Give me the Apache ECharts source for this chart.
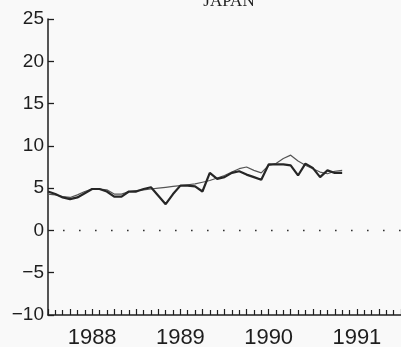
<!DOCTYPE html>
<html><head><meta charset="utf-8">
<script src="https://cdn.jsdelivr.net/npm/echarts@6/dist/echarts.min.js"></script>
<style>html,body{margin:0;padding:0;background:#f9f9f9;}#c{width:401px;height:347px;}</style>
</head><body><div id="c"></div>
<script>
// Monthly, starting January 1988
const startYear = 1988;
const yearLabels = ['1988', '1989', '1990', '1991'];
const seriesThick = [4.6,4.3,3.9,3.7,3.9,4.4,4.9,4.9,4.6,4.0,4.0,4.6,4.6,4.9,5.1,4.1,3.1,4.3,5.3,5.3,5.2,4.6,6.8,6.1,6.3,6.8,7.0,6.6,6.3,6.0,7.8,7.8,7.8,7.7,6.5,7.9,7.4,6.3,7.1,6.8,6.8];
const seriesThin  = [4.3,4.2,4.0,3.9,4.2,4.6,4.9,4.9,4.8,4.3,4.3,4.6,4.7,4.8,4.9,5.0,5.1,5.2,5.3,5.4,5.5,5.7,5.9,6.2,6.5,6.9,7.3,7.5,7.1,6.8,7.7,7.9,8.5,8.9,8.2,7.7,7.3,6.9,6.7,7.0,7.1];
const zeroLine = [0, 0];
const yTicks = [-10, -5, 0, 5, 10, 15, 20, 25];

const toPts = arr => arr.map((v, i) => [startYear + i / 12, v]);
const fontSans = 'Liberation Sans';
const ink = '#1e1e1e';

const chart = echarts.init(document.getElementById('c'), null, {renderer: 'canvas'});
chart.setOption({
  backgroundColor: '#f9f9f9',
  animation: false,
  title: {
    text: 'JAPAN', left: 224, top: -12, textAlign: 'center',
    textStyle: {fontFamily: 'Liberation Serif', fontSize: 17, fontWeight: 'normal', color: ink}
  },
  grid: {left: 48, right: 0, top: 19, bottom: 32, containLabel: false, outerBoundsMode: 'none'},
  xAxis: [
    {
      type: 'category', data: yearLabels, boundaryGap: true, position: 'bottom',
      axisLine: {onZero: false, lineStyle: {color: ink, width: 1.5}},
      axisTick: {inside: true, length: 9, interval: 0, lineStyle: {color: ink, width: 1.3}},
      axisLabel: {fontFamily: fontSans, fontSize: 22, color: ink, margin: 12},
      splitLine: {show: false}
    },
    {
      type: 'value', min: startYear, max: startYear + yearLabels.length, interval: 0.25, position: 'bottom',
      axisLine: {show: false, onZero: false},
      axisTick: {show: true, inside: true, length: 6, lineStyle: {color: ink, width: 1.2}},
      minorTick: {show: true, splitNumber: 3, length: 5, lineStyle: {color: ink, width: 1.2}},
      axisLabel: {show: false},
      splitLine: {show: false}
    }
  ],
  yAxis: {
    type: 'value', min: yTicks[0], max: yTicks[yTicks.length - 1], interval: 5,
    axisLine: {show: true, onZero: false, lineStyle: {color: ink, width: 1.5}},
    axisTick: {show: true, inside: true, length: 6, lineStyle: {color: ink, width: 1.3}},
    axisLabel: {fontFamily: fontSans, fontSize: 19, color: ink, margin: 4,
      formatter: v => (v < 0 ? '\u2212' + Math.abs(v) : String(v))},
    splitLine: {show: false}
  },
  series: [
    {
      type: 'line', xAxisIndex: 1, data: zeroLine.map((v, i) => [startYear + i * yearLabels.length, v]),
      symbol: 'none', silent: true,
      lineStyle: {color: '#333', width: 1.6, type: [1.6, 14.4], dashOffset: 1}, z: 1
    },
    {
      type: 'line', xAxisIndex: 1, data: toPts(seriesThin), symbol: 'none',
      lineStyle: {color: '#555', width: 1.2}, z: 2
    },
    {
      type: 'line', xAxisIndex: 1, data: toPts(seriesThick), symbol: 'none',
      lineStyle: {color: '#262626', width: 2.2}, z: 3
    }
  ]
});
</script></body></html>
